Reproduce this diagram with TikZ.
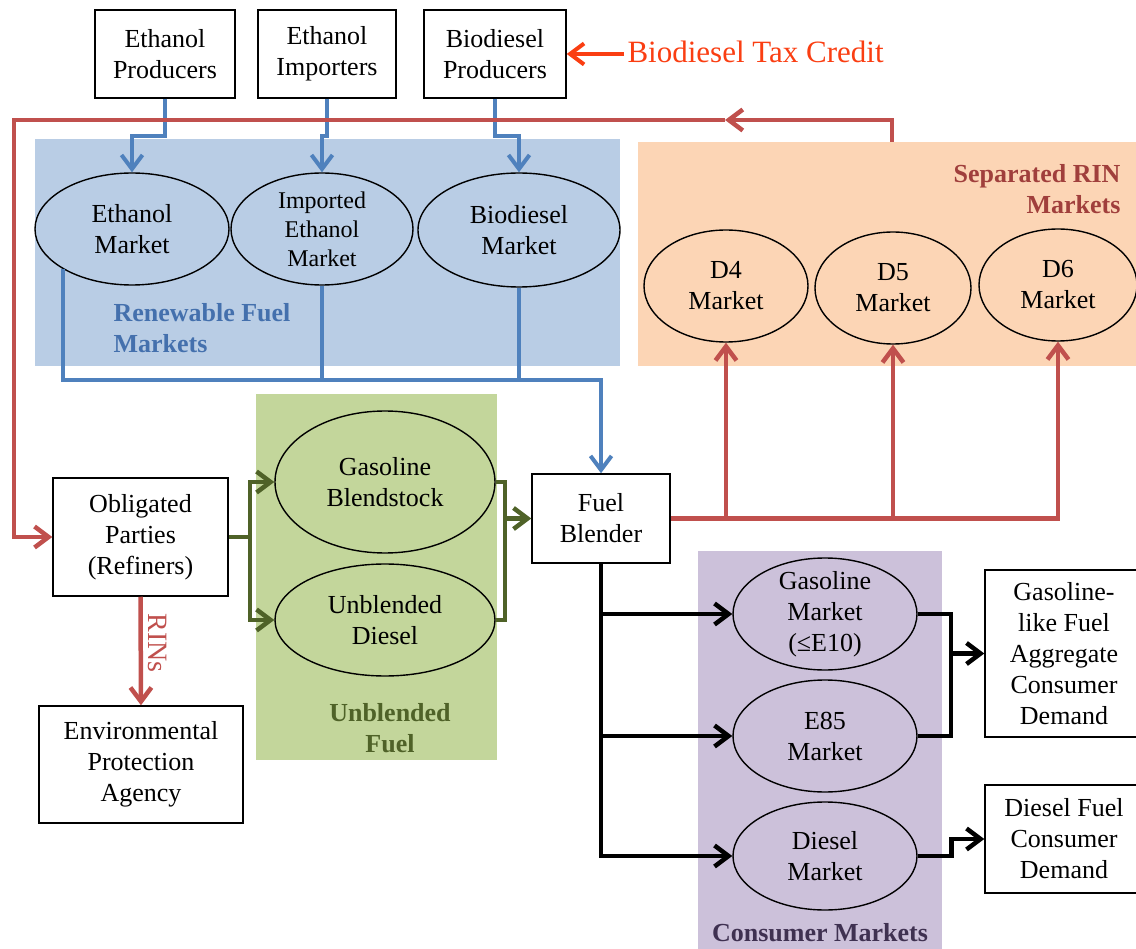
\documentclass[tikz,border=0pt]{standalone}
\usepackage{fontspec}
\setmainfont{Liberation Serif}
\usetikzlibrary{shapes.geometric,arrows.meta}
\definecolor{bgblue}{HTML}{B9CDE5}
\definecolor{lnblue}{HTML}{4F81BD}
\definecolor{txblue}{HTML}{4470AD}
\definecolor{bgorange}{HTML}{FCD5B5}
\definecolor{txred}{HTML}{A03F3C}
\definecolor{lnred}{HTML}{C0504D}
\definecolor{taxred}{HTML}{FA3E12}
\definecolor{bggreen}{HTML}{C3D69B}
\definecolor{lngreen}{HTML}{4F6228}
\definecolor{bgpurple}{HTML}{CCC1DA}
\definecolor{txpurple}{HTML}{3F3151}
\begin{document}
\begin{tikzpicture}[x=1pt,y=-1pt,
 every node/.style={font=\fontsize{26}{31}\selectfont},
 bgrect/.style={inner sep=0pt, draw=none},
 box/.style={draw=black, line width=1.5pt, fill=white, inner sep=0pt, align=center},
 mkt/.style={ellipse, draw=black, line width=1.4pt, inner sep=0pt, align=center},
 grp/.style={font=\fontsize{26}{31}\selectfont\bfseries},
 arr/.style={-{Straight Barb[length=14pt,width=21pt]}},
 bl/.style={draw=lnblue, line width=4pt},
 rd/.style={draw=lnred, line width=4.5pt},
 gn/.style={draw=lngreen, line width=4.5pt},
 bk/.style={draw=black, line width=4.5pt},
]
\useasboundingbox (0,0) rectangle (1136,949);
% group backgrounds
\node[bgrect, fill=bgblue, minimum width=585pt, minimum height=227pt] (renbg) at (327.5,252.5) {};
\node[bgrect, fill=bgorange, minimum width=498pt, minimum height=224pt] (rinbg) at (887,254) {};
\node[bgrect, fill=bggreen, minimum width=241pt, minimum height=366pt] (unbbg) at (376.5,577) {};
\node[bgrect, fill=bgpurple, minimum width=244pt, minimum height=398pt] (conbg) at (820,750) {};
% group labels
\node[grp, text=txblue, align=left, anchor=west] (renlab) at (110,328) {Renewable Fuel\\Markets};
\node[grp, text=txred, align=right, anchor=east] (rinlab) at (1124,189) {Separated RIN\\Markets};
\node[grp, text=lngreen, align=center] (unblab) at (390,728) {Unblended\\Fuel};
\node[grp, text=txpurple] (conlab) at (820,933) {Consumer Markets};
% boxes
\node[box, minimum width=140pt, minimum height=88pt] (ethp) at (165,54) {Ethanol\\Producers};
\node[box, minimum width=138pt, minimum height=88pt] (eimp) at (327,54) {Ethanol\\Importers};
\node[box, minimum width=142pt, minimum height=88pt] (biop) at (495,54) {Biodiesel\\Producers};
\node[text=taxred, font=\fontsize{31}{36}\selectfont, anchor=west] (btc) at (624,52) {Biodiesel Tax Credit};
\node[box, minimum width=175pt, minimum height=118pt] (obl) at (140.5,537) {Obligated\\Parties\\(Refiners)};
\node[box, minimum width=204pt, minimum height=117pt] (epa) at (141,764.5) {Environmental\\Protection\\Agency};
\node[box, minimum width=138pt, minimum height=89pt] (fb) at (601,518.5) {Fuel\\Blender};
\node[box, minimum width=158pt, minimum height=167pt] (gl) at (1064,653.5) {Gasoline-\\like Fuel\\Aggregate\\Consumer\\Demand};
\node[box, minimum width=158pt, minimum height=108pt] (dfd) at (1064,839) {Diesel Fuel\\Consumer\\Demand};
% ellipses
\node[mkt, minimum width=194pt, minimum height=112pt] (ethm) at (132,229) {Ethanol\\Market};
\node[mkt, minimum width=182pt, minimum height=112pt, inner ysep=-8pt, font=\fontsize{24}{29}\selectfont] (imm) at (322,229) {Imported\\Ethanol\\Market};
\node[mkt, minimum width=202pt, minimum height=114pt] (biom) at (519,230) {Biodiesel\\Market};
\node[mkt, minimum width=164pt, minimum height=112pt] (d4) at (726,286) {D4\\Market};
\node[mkt, minimum width=156pt, minimum height=112pt] (d5) at (893,288) {D5\\Market};
\node[mkt, minimum width=158pt, minimum height=112pt] (d6) at (1058,285) {D6\\Market};
\node[mkt, minimum width=220pt, minimum height=142pt] (gb) at (385,482) {Gasoline\\Blendstock};
\node[mkt, minimum width=220pt, minimum height=112pt] (ud) at (385,620) {Unblended\\Diesel};
\node[mkt, minimum width=184pt, minimum height=112pt, inner ysep=-6pt] (gm) at (825,614) {Gasoline\\Market\\(≤E10)};
\node[mkt, minimum width=184pt, minimum height=112pt] (e85) at (825,736) {E85\\Market};
\node[mkt, minimum width=184pt, minimum height=108pt] (dm) at (825,856) {Diesel\\Market};
% coordinates
\coordinate (bj) at (601,380);
\coordinate (rs) at (892,142);
\coordinate (rtop) at (892,120);
\coordinate (rmid) at (725,120);
\coordinate (rleft) at (14,120);
\coordinate (gj) at (250,537);
\coordinate (gj2) at (505,518.5);
\coordinate (bj2) at (951,653.5);
% tax credit arrow
\draw[draw=taxred, line width=4pt, arr] (btc.west |- biop.east) -- (biop.east);
% blue connectors
\draw[bl, arr] (ethp.south) -- ++(0,37) -| (ethm.north);
\draw[bl, arr] (eimp.south) -- ++(0,37) -| (imm.north);
\draw[bl, arr] (biop.south) -- ++(0,37) -| (biom.north);
\draw[bl] (imm.south) -- (imm.south |- bj);
\draw[bl] (biom.south) -- (biom.south |- bj);
\draw[bl, arr] (ethm.south west) |- (bj) -- (fb.north);
% red connectors
\draw[rd, arr] (rs) -- (rtop) -- (rmid);
\draw[rd, arr] (rmid) -- (rleft) |- (obl.west);
\draw[rd, arr] (obl.south) -- (epa.north);
\node[text=lnred, rotate=-90, font=\fontsize{28}{32}\selectfont] (rins) at (158,643) {RINs};
\draw[rd, arr] (fb.east) -| (d6.south);
\draw[rd, arr] (d4.south |- fb.east) -- (d4.south);
\draw[rd, arr] (d5.south |- fb.east) -- (d5.south);
% green connectors
\draw[gn] (obl.east) -- (gj);
\draw[gn, arr] (gj) |- (gb.west);
\draw[gn, arr] (gj) |- (ud.west);
\draw[gn] (gb.east) -- (gb.east -| gj2) |- (ud.east);
\draw[gn, arr] (gj2) -- (fb.west);
% black connectors
\draw[bk, arr] (fb.south) |- (dm.west);
\draw[bk, arr] (fb.south |- gm.west) -- (gm.west);
\draw[bk, arr] (fb.south |- e85.west) -- (e85.west);
\draw[bk] (gm.east) -- (gm.east -| bj2) |- (e85.east);
\draw[bk, arr] (bj2) -- (gl.west);
\draw[bk, arr] (dm.east) -- ++(34,0) |- (dfd.west);
\end{tikzpicture}
\end{document}
